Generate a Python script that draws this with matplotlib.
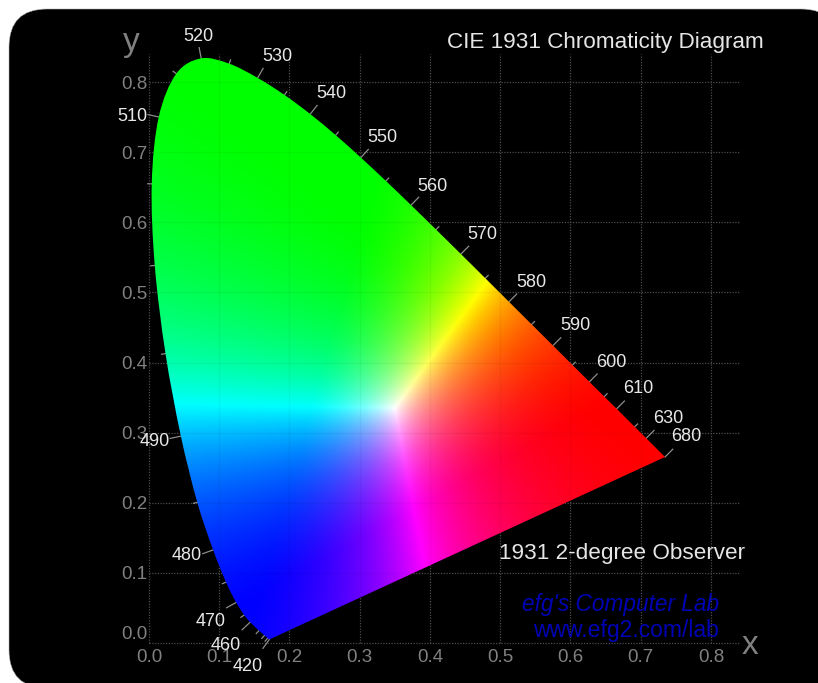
import numpy as np
import matplotlib
matplotlib.use("Agg")
import matplotlib.pyplot as plt
from matplotlib.patches import FancyBboxPatch, PathPatch, Rectangle
from matplotlib.path import Path
from matplotlib.transforms import IdentityTransform

# Spectral locus
wavelengths = [420, 430, 440, 450, 460, 465, 470, 475, 480, 485, 490, 495, 500, 505, 510, 515, 520, 525,
               530, 535, 540, 545, 550, 555, 560, 565, 570, 575, 580, 585, 590, 595, 600, 605, 610, 620, 630, 640, 680]
locus_x = [.1714, .1689, .1644, .1566, .1440, .1355, .1241, .1096, .0913, .0687, .0454, .0235, .0082, .0039, .0139, .0389, .0743, .1142,
           .1547, .1929, .2296, .2658, .3016, .3373, .3731, .4087, .4441, .4788, .5125, .5448, .5752, .6029, .6270, .6482, .6658, .6915, .7079, .7190, .7347]
locus_y = [.0051, .0069, .0109, .0177, .0297, .0399, .0578, .0868, .1327, .2007, .2950, .4127, .5384, .6548, .7502, .8120, .8338, .8262,
           .8059, .7816, .7543, .7243, .6923, .6589, .6245, .5896, .5547, .5202, .4866, .4544, .4242, .3965, .3725, .3514, .3340, .3083, .2920, .2809, .2653]
labelled_nm = [420, 460, 470, 480, 490, 510, 520, 530, 540, 550, 560, 570, 580, 590, 600, 610, 630, 680]
label_dx = [-22, -24, -26, -26, -26, -26, -3, 20, 21, 22, 21, 21, 22, 22, 22, 22, 22, 21]
label_dy = [-27, -23, -19, -6, -5, 0, 22, 21, 21, 20, 19, 20, 19, 20, 19, 20, 20, 20]
axis_ticks = [0.0, 0.1, 0.2, 0.3, 0.4, 0.5, 0.6, 0.7, 0.8]
tick_labels = ["0.0", "0.1", "0.2", "0.3", "0.4", "0.5", "0.6", "0.7", "0.8"]
primaries_xy = [[.64, .33], [.30, .60], [.15, .06]]
white_xy = [.35, .335]

W, H = 818, 683
plt.rcParams["font.family"] = ["Liberation Sans", "DejaVu Sans"]
fig = plt.figure(figsize=(W / 100, H / 100), dpi=100, facecolor="white")

# Rounded black panel in pixel coordinates
fig.add_artist(FancyBboxPatch((9 + 25, -5 + 25), 830 - 50, H - 9 + 5 - 50,
                              boxstyle="round,pad=25,rounding_size=38", fc="black", ec="#b0b0b0", lw=0.4,
                              transform=IdentityTransform(), zorder=-2))
fig.add_artist(Rectangle((700, 0), 130, 60, fc="black", ec="none", transform=IdentityTransform(), zorder=-1))

x0, x1 = 149, 739
y0, y1 = 643, 54
ax = fig.add_axes([x0 / W, 1 - y0 / H, (x1 - x0) / W, (y0 - y1) / H], zorder=1)
ax.set_xlim(0, 0.84)
ax.set_ylim(0, 0.84)
ax.patch.set_alpha(0)
for s in ax.spines.values():
    s.set_visible(False)

ax.set_axisbelow(True)
ax.set_xticks(axis_ticks, tick_labels)
ax.set_yticks(axis_ticks, tick_labels)
ax.tick_params(length=0, labelcolor="#808080", labelsize=13.5)
ax.tick_params(axis="x", pad=4)
ax.tick_params(axis="y", pad=1)
ax.grid(True, color="#4c4c4c", ls=(0, (1, 1.2)), lw=0.9)
for gl in ax.get_xgridlines() + ax.get_ygridlines():
    gl.set_clip_on(False)
ax.get_yticklabels()[0].set_va("bottom")

# Colour field
lx = np.array(locus_x)
ly = np.array(locus_y)
P = np.array([[p[0] for p in primaries_xy], [p[1] for p in primaries_xy], [1 - p[0] - p[1] for p in primaries_xy]])
wxyz = np.array([white_xy[0], white_xy[1], 1 - sum(white_xy)])
scale = np.linalg.solve(P, wxyz)
M = np.linalg.inv(P * scale)
gx, gy = np.meshgrid(np.linspace(0, 0.84, 900), np.linspace(0, 0.84, 900))
xyz = np.stack([gx, gy, 1 - gx - gy], axis=-1)
rgb = np.clip(xyz @ M.T, 0, None)
rgb = rgb / np.maximum(rgb.max(axis=-1, keepdims=True), 1e-6)
rgb = rgb ** 1.3
im = ax.imshow(rgb, origin="lower", extent=(0, 0.84, 0, 0.84), aspect="auto", zorder=1, interpolation="bilinear")

# Smooth outline through the locus points (Bezier segments), closed by the purple line
pts = np.column_stack([lx, ly])
verts = [pts[0]]
codes = [Path.MOVETO]
for i in range(len(pts) - 1):
    p0 = pts[max(i - 1, 0)]
    p1 = pts[i]
    p2 = pts[i + 1]
    p3 = pts[min(i + 2, len(pts) - 1)]
    verts += [p1 + (p2 - p0) / 6, p2 - (p3 - p1) / 6, p2]
    codes += [Path.CURVE4] * 3
verts.append(pts[0])
codes.append(Path.CLOSEPOLY)
outline = PathPatch(Path(verts, codes), transform=ax.transData, fc="none", ec="none")
ax.add_patch(outline)
im.set_clip_path(outline)

# Faint grid showing through the colours
for t in axis_ticks[1:]:
    line, = ax.plot([t, t], [0, 0.84], color="black", alpha=0.04, lw=1, zorder=1.5)
    line.set_clip_path(outline)
    line, = ax.plot([0, 0.84], [t, t], color="black", alpha=0.04, lw=1, zorder=1.5)
    line.set_clip_path(outline)

# Wavelength ticks along the locus
dx = np.gradient(lx)
dy = np.gradient(ly)
nrm = np.hypot(dx, dy)
nx, ny = dy / nrm, -dx / nrm
for nm, px, py, ux, uy in zip(wavelengths, lx, ly, nx, ny):
    if np.dot([ux, uy], [px - white_xy[0], py - white_xy[1]]) < 0:
        ux, uy = -ux, -uy
    n = 11 if nm in labelled_nm else 4
    if nm == 640:
        continue
    ax.plot([px, px + ux * n / 702], [py, py + uy * n / 702], color="#8c8c8c", lw=0.9, clip_on=False, zorder=0.8)

for nm, ox, oy in zip(labelled_nm, label_dx, label_dy):
    i = wavelengths.index(nm)
    ax.annotate(str(nm), xy=(lx[i], ly[i]), xytext=(ox, oy), textcoords="offset pixels",
                ha="center", va="center", color="#e8e8e8", fontsize=13, annotation_clip=False, zorder=4)

pxx = lambda p: (p - x0) / (x1 - x0) * 0.84
pxy = lambda p: (y0 - p) / (y0 - y1) * 0.84
ax.text(pxx(764), pxy(42.5), "CIE 1931 Chromaticity Diagram", ha="right", va="center", color="#e6e6e6", fontsize=16.2, clip_on=False)
ax.text(pxx(745), pxy(554), "1931 2-degree Observer", ha="right", va="center", color="#e6e6e6", fontsize=16.2, clip_on=False)
ax.text(pxx(719), pxy(605), "efg's Computer Lab", ha="right", va="center", color="#0000b4", fontsize=16.3, style="italic", clip_on=False)
ax.text(pxx(719), pxy(631), "www.efg2.com/lab", ha="right", va="center", color="#0000b4", fontsize=16.5, clip_on=False)
ax.text(pxx(131), pxy(42), "y", ha="center", va="center", color="#808080", fontsize=24, clip_on=False)
ax.text(pxx(750), pxy(645), "x", ha="center", va="center", color="#808080", fontsize=24, clip_on=False)

fig.savefig("out.png", dpi=100, facecolor="white")
